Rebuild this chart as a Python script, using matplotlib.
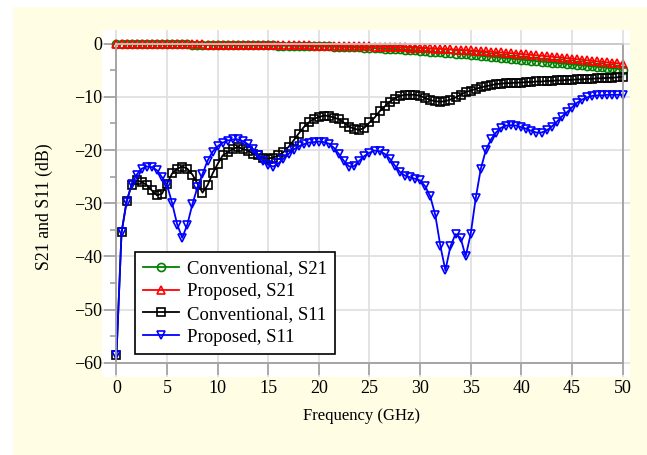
import numpy as np
import matplotlib
matplotlib.use('Agg')
import matplotlib.pyplot as plt
from matplotlib.patches import Rectangle

plt.rcParams['font.family'] = ['Liberation Serif', 'DejaVu Serif']

# frequency samples, 0.5 GHz step
freq = np.arange(0, 50.01, 0.5)

conv_s21 = [0.0,
    -0.01, -0.02, -0.03, -0.04, -0.05, -0.06, -0.07, -0.08, -0.09, -0.10,
    -0.11, -0.12, -0.13, -0.14, -0.15, -0.16, -0.17, -0.18, -0.19, -0.20,
    -0.21, -0.22, -0.23, -0.24, -0.25, -0.26, -0.27, -0.28, -0.29, -0.30,
    -0.31, -0.33, -0.34, -0.35, -0.37, -0.38, -0.40, -0.42, -0.44, -0.46,
    -0.48, -0.50, -0.53, -0.56, -0.59, -0.62, -0.65, -0.69, -0.73, -0.77,
    -0.81, -0.86, -0.91, -0.96, -1.01, -1.07, -1.13, -1.19, -1.25, -1.32,
    -1.39, -1.46, -1.53, -1.60, -1.68, -1.76, -1.84, -1.92, -2.00, -2.09,
    -2.18, -2.27, -2.36, -2.45, -2.54, -2.63, -2.72, -2.81, -2.90, -2.99,
    -3.08, -3.17, -3.26, -3.35, -3.44, -3.53, -3.62, -3.71, -3.80, -3.89,
    -3.98, -4.07, -4.16, -4.25, -4.34, -4.43, -4.52, -4.62, -4.72, -4.85]

prop_s21 = [0.0,
    -0.01, -0.02, -0.03, -0.04, -0.05, -0.05, -0.06, -0.07, -0.08, -0.09,
    -0.09, -0.10, -0.11, -0.12, -0.12, -0.13, -0.14, -0.15, -0.15, -0.16,
    -0.17, -0.18, -0.18, -0.19, -0.20, -0.21, -0.21, -0.22, -0.23, -0.24,
    -0.25, -0.26, -0.27, -0.28, -0.29, -0.30, -0.31, -0.32, -0.34, -0.35,
    -0.36, -0.37, -0.39, -0.40, -0.42, -0.43, -0.45, -0.47, -0.49, -0.51,
    -0.53, -0.55, -0.58, -0.60, -0.63, -0.66, -0.69, -0.72, -0.76, -0.80,
    -0.84, -0.88, -0.92, -0.96, -1.00, -1.05, -1.10, -1.15, -1.20, -1.26,
    -1.32, -1.38, -1.44, -1.50, -1.57, -1.64, -1.71, -1.78, -1.86, -1.94,
    -2.02, -2.10, -2.18, -2.26, -2.35, -2.44, -2.53, -2.62, -2.72, -2.82,
    -2.92, -3.02, -3.12, -3.22, -3.32, -3.42, -3.51, -3.60, -3.68, -3.75]

conv_s11 = [-58.5,
    -35.5, -29.6, -26.6, -25.7, -26.0, -26.6, -27.6, -28.5, -28.2, -26.3,
    -24.4, -23.5, -23.1, -23.5, -24.6, -26.3, -28.0, -26.6, -24.4, -22.6,
    -21.0, -20.4, -19.8, -19.4, -19.8, -20.1, -20.7, -21.0, -21.4, -21.6,
    -21.4, -21.0, -20.4, -19.4, -18.2, -16.9, -15.7, -14.8, -14.1, -13.8,
    -13.5, -13.6, -13.9, -14.2, -14.9, -15.6, -16.0, -16.2, -15.8, -14.8,
    -13.9, -12.7, -11.8, -10.9, -10.3, -9.8, -9.6, -9.6, -9.6, -9.8,
    -10.2, -10.6, -10.8, -10.9, -10.8, -10.5, -10.1, -9.6, -9.1, -8.8,
    -8.5, -8.2, -8.0, -7.8, -7.6, -7.5, -7.4, -7.4, -7.3, -7.3,
    -7.2, -7.2, -7.1, -7.1, -7.0, -7.0, -6.9, -6.9, -6.8, -6.8,
    -6.7, -6.7, -6.6, -6.6, -6.5, -6.5, -6.4, -6.4, -6.3, -6.2]

prop_s11 = [-58.5,
    -35.5, -29.8, -26.3, -24.6, -23.5, -23.1, -23.2, -23.8, -25.1, -26.6,
    -30.0, -34.0, -36.5, -34.0, -30.2, -27.0, -24.5, -22.0, -20.3, -19.3,
    -18.6, -18.2, -18.0, -18.0, -18.3, -18.9, -19.8, -21.0, -22.1, -22.8,
    -23.1, -22.5, -21.6, -20.7, -19.9, -19.3, -18.9, -18.6, -18.5, -18.4,
    -18.5, -18.8, -19.6, -20.8, -22.1, -23.1, -23.0, -22.0, -21.1, -20.5,
    -20.1, -20.2, -20.7, -21.6, -22.9, -24.1, -24.8, -25.1, -25.4, -25.7,
    -26.8, -28.7, -32.2, -38.0, -42.6, -38.1, -35.8, -36.5, -40.0, -35.8,
    -29.0, -23.5, -20.0, -18.0, -16.7, -15.8, -15.4, -15.3, -15.4, -15.7,
    -16.0, -16.4, -16.7, -16.7, -16.3, -15.6, -14.7, -13.7, -12.9, -12.0,
    -11.1, -10.5, -10.1, -9.8, -9.7, -9.7, -9.6, -9.6, -9.6, -9.6]

series = [
    ('Conventional, S21', conv_s21, '#008000', 'o'),
    ('Proposed, S21', prop_s21, '#ff0000', '^'),
    ('Conventional, S11', conv_s11, '#000000', 's'),
    ('Proposed, S11', prop_s11, '#0000ff', 'v'),
]

fig = plt.figure(figsize=(6.47, 4.55), dpi=100, facecolor='white')
# pale yellow panel behind everything
fig.patches.append(Rectangle((13/647, 0), 1, 1 - 7/455, transform=fig.transFigure,
                             facecolor='#fffde3', edgecolor='none', zorder=-10))

ax = fig.add_axes([102/647, 1 - 377/455, 528/647, 347.5/455])
ax.set_facecolor('white')

for label, vals, col, mk in series:
    ax.plot(freq, vals, color=col, lw=1.3, marker=mk, ms=5.8, mfc='none',
            mec=col, mew=1.2, label=label)

ax.set_xlim(-1.43, 50.74)
ax.set_ylim(-62.68, 2.68)

ax.set_xticks(np.arange(0, 51, 5))
ax.set_yticks(np.arange(-60, 1, 10))
ax.set_yticks(np.arange(-55, 0, 10), minor=True)

# frame box from (0,-60) to (50,0)
ax.spines['left'].set_position(('data', 0))
ax.spines['bottom'].set_position(('data', -60))
ax.spines['right'].set_position(('data', 50))
ax.spines['top'].set_position(('data', 0))
for s in ['left', 'right']:
    ax.spines[s].set_bounds(-60, 0)
for s in ['top', 'bottom']:
    ax.spines[s].set_bounds(0, 50)
for s in ax.spines.values():
    s.set_color('#a0a0a0')
    s.set_linewidth(1.3)
ax.spines['top'].set_color('#c8c8c8')

ax.grid(True, which='major', color='#dedede', lw=1.2)
ax.set_axisbelow(True)

ax.tick_params(axis='both', which='major', direction='out', length=8.6,
               width=1.2, color='#a0a0a0', labelsize=13, pad=4)
ax.tick_params(axis='y', which='minor', direction='out', length=4.5,
               width=1.2, color='#a0a0a0')
ax.tick_params(axis='y', which='major', pad=1.5)

ax.set_xlabel('Frequency (GHz)', fontsize=12)
ax.set_ylabel('S21 and S11 (dB)', fontsize=12.8)
ax.xaxis.set_label_coords(0.492, -0.09)
ax.yaxis.set_label_coords(-0.092, 0.49)

leg = ax.legend(loc='upper left', bbox_to_anchor=(0.0625, 0.36), borderaxespad=0,
                fontsize=13.5, handlelength=1.9, numpoints=1, labelspacing=0.3,
                fancybox=False, framealpha=1, edgecolor='black',
                borderpad=0.45, handletextpad=0.4)
leg.get_frame().set_linewidth(1.2)

fig.savefig('out.png', dpi=100, facecolor=fig.get_facecolor())
